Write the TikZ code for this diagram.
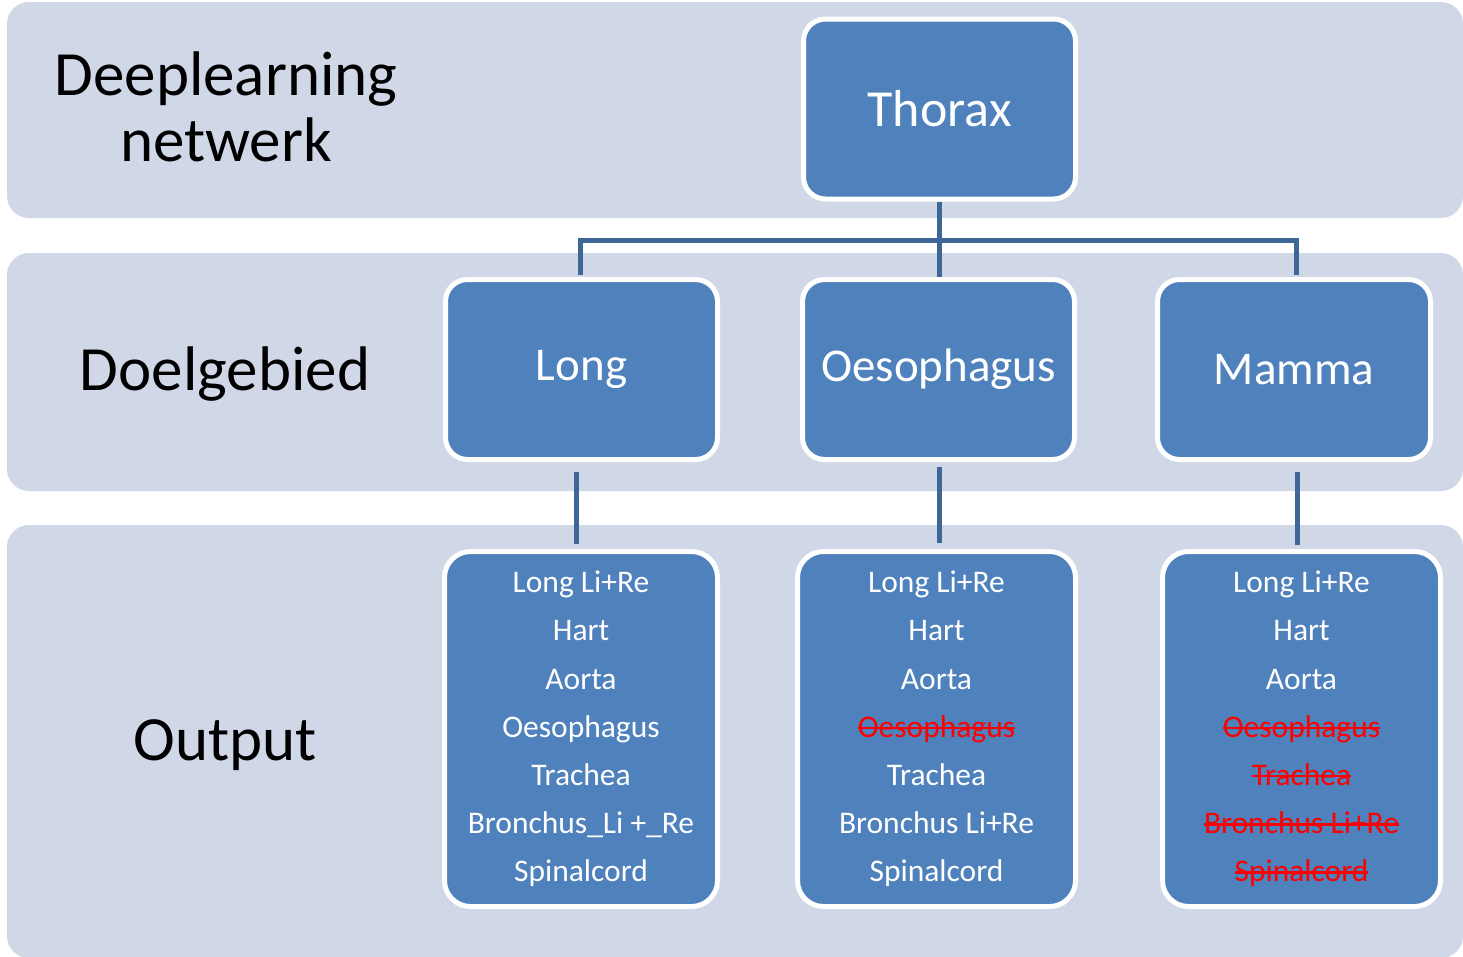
\documentclass[tikz,border=0pt]{standalone}
\usepackage{fontspec}
\setmainfont{Carlito}
\definecolor{bandc}{HTML}{D0D8E8}
\definecolor{boxc}{HTML}{4F81BD}
\definecolor{linec}{HTML}{3E6697}
\newcommand\redstrike[1]{{\color{red}\setbox0\hbox{#1}\rlap{\rule[0.26em]{\wd0}{0.08em}}\box0}}
\begin{document}
\begin{tikzpicture}[x=1pt,y=-1pt,
  band/.style={fill=bandc,draw=none,rounded corners=22pt},
  bigbox/.style={rectangle,fill=boxc,draw=white,line width=5pt,rounded corners=22pt,
     minimum width=272pt,minimum height=180pt,inner sep=0pt,text=white,
     font=\fontsize{47}{56}\selectfont},
  listbox/.style={rectangle,fill=boxc,draw=white,line width=5pt,rounded corners=26pt,
     minimum height=355pt,inner sep=0pt,text=white,align=center,
     font=\fontsize{31.5}{48.2}\selectfont},
  lbl/.style={inner sep=0pt,align=center,text=black,font=\fontsize{63}{67}\selectfont},
  conn/.style={draw=linec,line width=5pt}]
\path[fill=white] (0,0) rectangle (1463,956);
\useasboundingbox (0,0) rectangle (1463,956);
\path[band] (7,2) rectangle (1463,218);
\path[band] (7,253) rectangle (1463,491);
\path[band] (7,525) rectangle (1463,958);

\node[lbl] (ldl) at (226,107) {Deeplearning\\[-1pt]\hspace*{0pt}netwerk};
\node[lbl] (ldoel) at (225,374) {Doelgebied};
\node[lbl] (lout) at (225,745) {Output};

\node[bigbox,font=\fontsize{52}{60}\selectfont] (thorax) at (939.5,109) {Thorax};
\node[bigbox] (long) at (581.5,369.5) {\raisebox{-3pt}{Long}};
\node[bigbox] (oeso) at (938.5,369.5) {\raisebox{2pt}{Oesophagus}};
\node[bigbox,minimum width=273pt] (mamma) at (1294,369.5) {Mamma};

\node[listbox,minimum width=273pt] (outlong) at (581,729)
  {Long Li+Re\\Hart\\Aorta\\Oesophagus\\Trachea\\Bronchus\_Li +\_Re\\Spinalcord};
\node[listbox,minimum width=278pt] (outoeso) at (936.5,729)
  {Long Li+Re\\Hart\\Aorta\\\redstrike{Oesophagus}\\Trachea\\Bronchus Li+Re\\Spinalcord};
\node[listbox,minimum width=278pt] (outmamma) at (1301.5,729)
  {Long Li+Re\\Hart\\Aorta\\\redstrike{Oesophagus}\\\redstrike{Trachea}\\\redstrike{Bronchus Li+Re}\\\redstrike{Spinalcord}};

\coordinate (hub) at (939,240);
\draw[conn] (thorax.south -| hub) -- (hub);
\draw[conn] (hub) -| (580,275) coordinate (ltop);
\draw[conn] (hub) -| (1296,275) coordinate (mtop);
\draw[conn] (hub) -- (hub |- oeso.north);

\coordinate (a1) at (576,472); \coordinate (a2) at (576,544);
\coordinate (b1) at (939,467); \coordinate (b2) at (939,543);
\coordinate (c1) at (1297,472); \coordinate (c2) at (1297,545);
\draw[conn] (a1) -- (a2);
\draw[conn] (b1) -- (b2);
\draw[conn] (c1) -- (c2);
\end{tikzpicture}
\end{document}
